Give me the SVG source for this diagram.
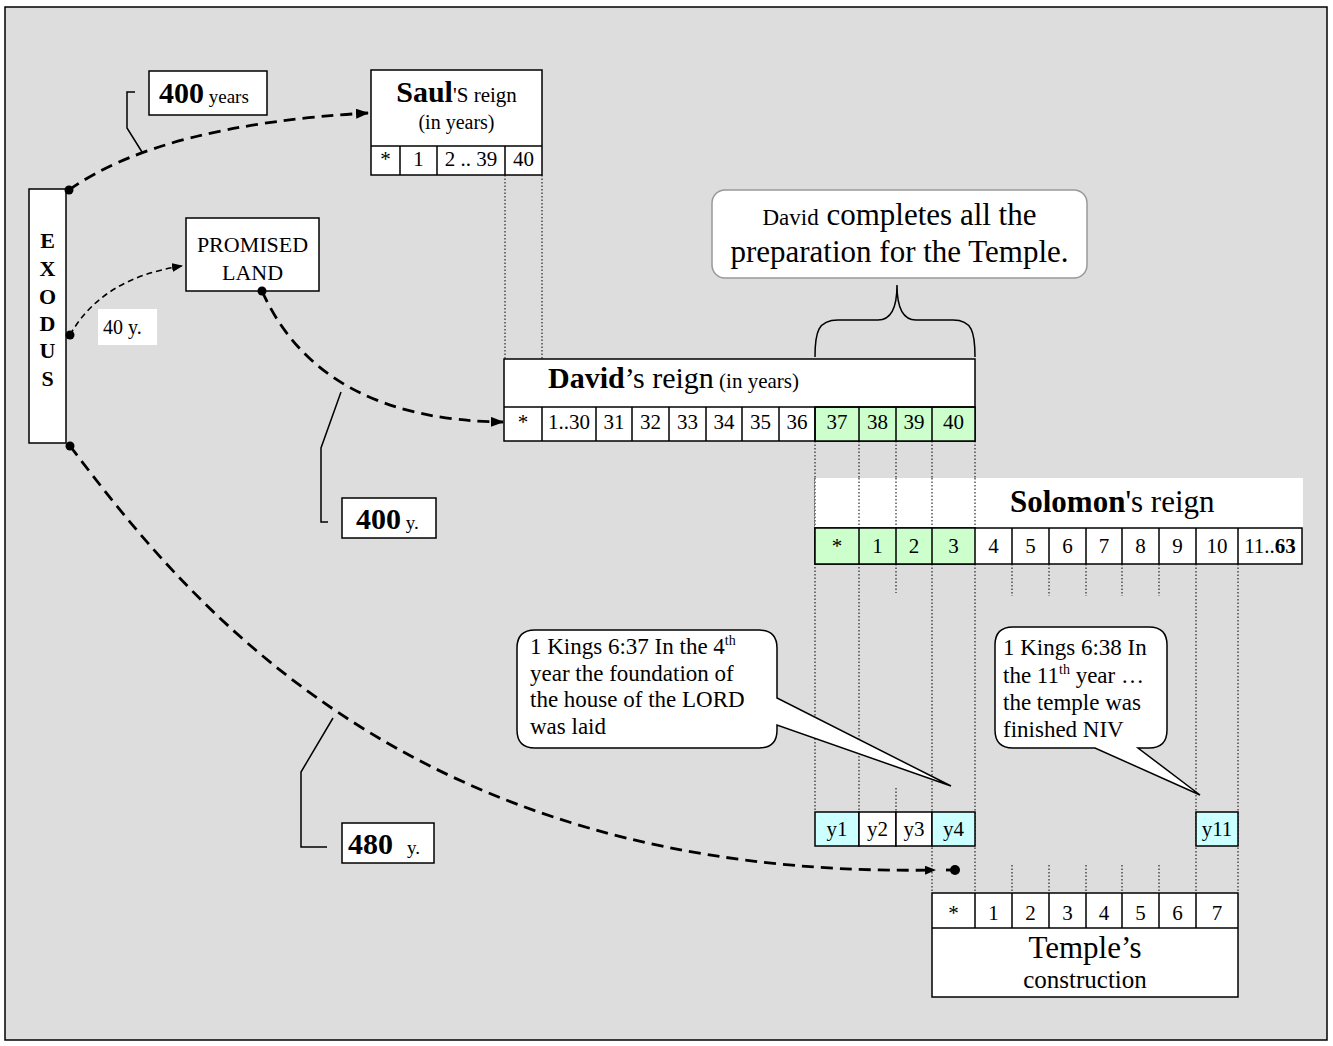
<svg xmlns="http://www.w3.org/2000/svg" width="1333" height="1046" viewBox="0 0 1333 1046">
<style>
text{font-family:"Liberation Serif","Times New Roman",serif;fill:#000}
.box{fill:#fff;stroke:#000;stroke-width:1.5}
.grn{fill:#CCFFCC;stroke:#000;stroke-width:1.5}
.cyn{fill:#CCFFFF;stroke:#000;stroke-width:1.5}
.ln{fill:none;stroke:#000;stroke-width:1.5}
.dot{fill:none;stroke:#000;stroke-width:1;stroke-dasharray:1.5 2}
.dash{fill:none;stroke:#000;stroke-width:2.8;stroke-dasharray:12 7}
.thin{fill:none;stroke:#000;stroke-width:1.6;stroke-dasharray:6 4}
.c{text-anchor:middle}
.cell{font-size:21px;text-anchor:middle}
.b{font-weight:bold}
</style>
<defs>
<marker id="arr" markerUnits="userSpaceOnUse" markerWidth="14" markerHeight="12" refX="12" refY="5" orient="auto">
<path d="M0,0 L13,5 L0,10 z" fill="#000"/>
</marker>
<marker id="arrs" markerUnits="userSpaceOnUse" markerWidth="12" markerHeight="10" refX="10" refY="4.5" orient="auto">
<path d="M0,0 L11,4.5 L0,9 z" fill="#000"/>
</marker>
</defs>
<rect x="5" y="7" width="1322" height="1033" fill="#DDDDDD" stroke="#000" stroke-width="1.5"/>

<g id="dotted-guides">
<path class="dot" d="M505,175V359M542,175V359"/>
<path class="dot" d="M815,441V812M859,441V812M896,441V528M896,564V593M896,788V812"/>
<path class="dot" d="M932,441V528M932,564V893M975,441V528M975,564V893"/>
<path class="dot" d="M1012,564V596M1049,564V596M1086,564V596M1122,564V596M1159,564V596"/>
<path class="dot" d="M1012,865V893M1049,865V893M1086,865V893M1122,865V893M1159,865V893"/>
<path class="dot" d="M1196,564V893M1238,564V893"/>
</g>

<g id="exodus">
<rect class="box" x="29" y="189" width="37" height="254"/>
<g class="b c" font-size="22">
<text x="47.5" y="248">E</text>
<text x="47.5" y="276">X</text>
<text x="47.5" y="304">O</text>
<text x="47.5" y="331">D</text>
<text x="47.5" y="358">U</text>
<text x="47.5" y="386">S</text>
</g>
</g>

<g id="label-400-years">
<rect class="box" x="149" y="71" width="118" height="44"/>
<text x="159" y="103"><tspan class="b" font-size="30">400</tspan><tspan font-size="19"> years</tspan></text>
</g>

<g id="saul">
<rect class="box" x="371" y="70" width="171" height="105"/>
<line class="ln" x1="371" y1="146" x2="542" y2="146"/>
<path class="ln" d="M400,146V175M437,146V175M505,146V175"/>
<text class="c" x="456.5" y="102"><tspan class="b" font-size="30">Saul</tspan><tspan font-size="21">'S reign</tspan></text>
<text class="c" x="456.5" y="129" font-size="20">(in years)</text>
<text class="cell" x="385.5" y="166" font-size="18">*</text>
<text class="cell" x="418.5" y="166" font-size="18">1</text>
<text class="cell" x="471" y="166" font-size="18">2 .. 39</text>
<text class="cell" x="523.5" y="166" font-size="18">40</text>
</g>

<g id="promised-land">
<rect class="box" x="186" y="218" width="133" height="73"/>
<text class="c" x="252.5" y="252" font-size="22">PROMISED</text>
<text class="c" x="252.5" y="280" font-size="22">LAND</text>
</g>

<g id="label-40-y">
<rect x="98" y="309" width="59" height="36" fill="#fff"/>
<text x="103" y="334" font-size="20">40</text>
<text x="128" y="334" font-size="20">y.</text>
</g>

<g id="label-400-y">
<rect class="box" x="342" y="498" width="94" height="40"/>
<text x="356" y="529"><tspan class="b" font-size="30">400</tspan><tspan font-size="19"> y.</tspan></text>
</g>

<g id="label-480-y">
<rect class="box" x="342" y="823" width="92" height="40"/>
<text x="348" y="854"><tspan class="b" font-size="30">480</tspan></text>
<text x="407" y="854" font-size="19">y.</text>
</g>

<g id="david">
<rect class="box" x="504" y="359" width="471" height="82"/>
<rect class="grn" x="815" y="407" width="160" height="34"/>
<line class="ln" x1="504" y1="407" x2="975" y2="407"/>
<path class="ln" d="M542,407V441M596,407V441M632,407V441M669,407V441M706,407V441M742,407V441M779,407V441M815,407V441M859,407V441M896,407V441M932,407V441"/>
<text x="548" y="388"><tspan class="b" font-size="30">David</tspan><tspan font-size="30">’s reign</tspan><tspan font-size="21"> (in years)</tspan></text>
<text class="cell" x="523" y="429">*</text>
<text class="cell" x="569" y="429">1..30</text>
<text class="cell" x="614" y="429">31</text>
<text class="cell" x="650.5" y="429">32</text>
<text class="cell" x="687.5" y="429">33</text>
<text class="cell" x="724" y="429">34</text>
<text class="cell" x="760.5" y="429">35</text>
<text class="cell" x="797" y="429">36</text>
<text class="cell" x="837" y="429">37</text>
<text class="cell" x="877.5" y="429">38</text>
<text class="cell" x="914" y="429">39</text>
<text class="cell" x="953.5" y="429">40</text>
</g>

<g id="david-brace">
<path class="ln" d="M815,357 C815,332 818,320 838,320 L878,320 C892,320 897,305 897,285 C897,305 902,320 916,320 L953,320 C972,320 975,332 975,357"/>
</g>

<g id="callout-david">
<rect x="712" y="190" width="375" height="88" rx="13" fill="#fff" stroke="#999" stroke-width="1.5"/>
<text class="c" x="899.5" y="225"><tspan font-size="23">David</tspan><tspan font-size="31"> completes all the</tspan></text>
<text class="c" x="899.5" y="262" font-size="31">preparation for the Temple.</text>
</g>

<g id="solomon">
<rect x="815" y="478" width="488" height="50" fill="#fff"/>
<path class="dot" d="M815,478V528M859,478V528M896,478V528M932,478V528M975,478V528"/>
<text x="1010" y="512" font-size="31"><tspan class="b">Solomon</tspan>'s reign</text>
<rect class="box" x="815" y="528" width="487" height="36"/>
<rect class="grn" x="815" y="528" width="160" height="36"/>
<path class="ln" d="M859,528V564M896,528V564M932,528V564M1012,528V564M1049,528V564M1086,528V564M1122,528V564M1159,528V564M1196,528V564M1238,528V564"/>
<text class="cell" x="837" y="553">*</text>
<text class="cell" x="877.5" y="553">1</text>
<text class="cell" x="914" y="553">2</text>
<text class="cell" x="953.5" y="553">3</text>
<text class="cell" x="993.5" y="553">4</text>
<text class="cell" x="1030.5" y="553">5</text>
<text class="cell" x="1067.5" y="553">6</text>
<text class="cell" x="1104" y="553">7</text>
<text class="cell" x="1140.5" y="553">8</text>
<text class="cell" x="1177.5" y="553">9</text>
<text class="cell" x="1217" y="553">10</text>
<text class="cell" x="1270" y="553">11..<tspan class="b">63</tspan></text>
</g>

<g id="callout-637">
<path d="M535,630 H759 Q777,630 777,648 V698 L951,786 L777,725 V730 Q777,748 759,748 H535 Q517,748 517,730 V648 Q517,630 535,630 Z" fill="#fff" stroke="#000" stroke-width="1.5"/>
<text x="530" y="654" font-size="23">1 Kings 6:37 In the 4<tspan font-size="14" dy="-9">th</tspan></text>
<text x="530" y="681" font-size="23">year the foundation of</text>
<text x="530" y="707" font-size="23">the house of the LORD</text>
<text x="530" y="734" font-size="23">was laid</text>
</g>

<g id="callout-638">
<path d="M1013,627 H1149 Q1167,627 1167,645 V730 Q1167,748 1149,748 H1138 L1200,795 L1095,748 H1013 Q995,748 995,730 V645 Q995,627 1013,627 Z" fill="#fff" stroke="#000" stroke-width="1.5"/>
<text x="1003" y="655" font-size="23">1 Kings 6:38 In</text>
<text x="1003" y="683" font-size="23">the 11<tspan font-size="14" dy="-9">th</tspan><tspan dy="9"> year …</tspan></text>
<text x="1003" y="710" font-size="23">the temple was</text>
<text x="1003" y="737" font-size="23">finished NIV</text>
</g>

<g id="year-row">
<rect class="cyn" x="815" y="812" width="44" height="34"/>
<rect class="box" x="859" y="812" width="37" height="34"/>
<rect class="box" x="896" y="812" width="36" height="34"/>
<rect class="cyn" x="932" y="812" width="43" height="34"/>
<text class="cell" x="837" y="836">y1</text>
<text class="cell" x="877.5" y="836">y2</text>
<text class="cell" x="914" y="836">y3</text>
<text class="cell" x="953.5" y="836">y4</text>
</g>
<g id="year-11">
<rect class="cyn" x="1196" y="812" width="42" height="34"/>
<text class="cell" x="1217" y="836">y11</text>
</g>

<g id="temple">
<rect class="box" x="932" y="893" width="306" height="104"/>
<line class="ln" x1="932" y1="928" x2="1238" y2="928"/>
<path class="ln" d="M975,893V928M1012,893V928M1049,893V928M1086,893V928M1122,893V928M1159,893V928M1196,893V928"/>
<text class="cell" x="953.5" y="920">*</text>
<text class="cell" x="993.5" y="920">1</text>
<text class="cell" x="1030.5" y="920">2</text>
<text class="cell" x="1067.5" y="920">3</text>
<text class="cell" x="1104" y="920">4</text>
<text class="cell" x="1140.5" y="920">5</text>
<text class="cell" x="1177.5" y="920">6</text>
<text class="cell" x="1217" y="920">7</text>
<text class="c" x="1085" y="958" font-size="31">Temple’s</text>
<text class="c" x="1085" y="988" font-size="25">construction</text>
</g>

<g id="connectors">
<path class="dash" d="M69,190 Q160,125 368,113" marker-end="url(#arr)"/>
<path class="thin" d="M70,335 Q102,278 182,266" marker-end="url(#arrs)"/>
<path class="dash" d="M262,291 Q320,420 503,422" marker-end="url(#arr)"/>
<path class="dash" d="M70,446 C180,590 400,880 935,870" marker-end="url(#arrs)"/>
<line x1="946" y1="870" x2="955" y2="870" stroke="#000" stroke-width="2.8"/>
<circle cx="69" cy="190" r="4.5"/>
<circle cx="70" cy="335" r="4.5"/>
<circle cx="70" cy="446" r="4.5"/>
<circle cx="262" cy="291" r="4.5"/>
<circle cx="955" cy="870" r="5"/>
<polyline class="ln" points="135,92 127,92 127,128 142,152"/>
<polyline class="ln" points="341,392 321,448 321,522 328,522"/>
<polyline class="ln" points="333,718 301,772 301,847 327,847"/>
</g>
</svg>
